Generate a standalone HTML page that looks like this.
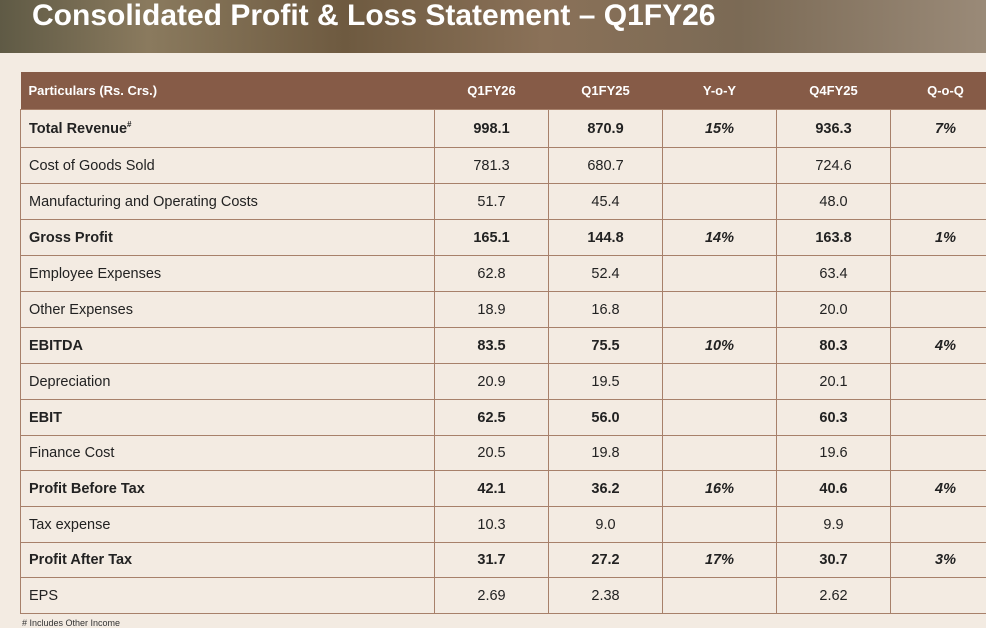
<!DOCTYPE html>
<html><head><style>
body{margin:0;width:986px;height:626px;overflow:hidden;background:#f3ebe2;font-family:"Liberation Sans",sans-serif;position:relative}
.band{position:absolute;left:0;top:0;width:986px;height:53px;background:linear-gradient(90deg,#5f5a45 0%,#8a7a5e 15%,#6e5a40 35%,#8a7158 55%,#7b6a55 75%,#9a8a78 100%)}
.title{position:absolute;left:32px;top:-1px;color:#fff;font-size:30px;font-weight:bold;white-space:nowrap}
table{position:absolute;left:20px;top:72px;border-collapse:collapse;table-layout:fixed;width:980px}
td{border:1px solid #a7806a;font-size:14.5px;color:#222;padding:0;text-align:center}
td:first-child{text-align:left;padding-left:8px}
tr.h td{background:#865b47;color:#fff;font-weight:bold;font-size:13px;height:37px;border:none}
tr.b td{font-weight:bold}
td.i{font-style:italic;font-weight:bold}
.foot{position:absolute;left:22px;top:618px;font-size:9px;color:#333}
</style></head><body>
<div class="band"></div>
<div class="title">Consolidated Profit &amp; Loss Statement – Q1FY26</div>
<table>
<colgroup><col style="width:414px"><col style="width:114px"><col style="width:114px"><col style="width:114px"><col style="width:114px"><col style="width:110px"></colgroup>
<tr class="h"><td>Particulars (Rs. Crs.)</td><td>Q1FY26</td><td>Q1FY25</td><td>Y-o-Y</td><td>Q4FY25</td><td>Q-o-Q</td></tr>
<tr class="b" style="height:38px"><td>Total Revenue<sup style="font-size:8px">#</sup></td><td>998.1</td><td>870.9</td><td class="i">15%</td><td>936.3</td><td class="i">7%</td></tr>
<tr style="height:36px"><td>Cost of Goods Sold</td><td>781.3</td><td>680.7</td><td></td><td>724.6</td><td></td></tr>
<tr style="height:36px"><td>Manufacturing and Operating Costs</td><td>51.7</td><td>45.4</td><td></td><td>48.0</td><td></td></tr>
<tr class="b" style="height:36px"><td>Gross Profit</td><td>165.1</td><td>144.8</td><td class="i">14%</td><td>163.8</td><td class="i">1%</td></tr>
<tr style="height:36px"><td>Employee Expenses</td><td>62.8</td><td>52.4</td><td></td><td>63.4</td><td></td></tr>
<tr style="height:36px"><td>Other Expenses</td><td>18.9</td><td>16.8</td><td></td><td>20.0</td><td></td></tr>
<tr class="b" style="height:36px"><td>EBITDA</td><td>83.5</td><td>75.5</td><td class="i">10%</td><td>80.3</td><td class="i">4%</td></tr>
<tr style="height:36px"><td>Depreciation</td><td>20.9</td><td>19.5</td><td></td><td>20.1</td><td></td></tr>
<tr class="b" style="height:36px"><td>EBIT</td><td>62.5</td><td>56.0</td><td></td><td>60.3</td><td></td></tr>
<tr style="height:35px"><td>Finance Cost</td><td>20.5</td><td>19.8</td><td></td><td>19.6</td><td></td></tr>
<tr class="b" style="height:36px"><td>Profit Before Tax</td><td>42.1</td><td>36.2</td><td class="i">16%</td><td>40.6</td><td class="i">4%</td></tr>
<tr style="height:36px"><td>Tax expense</td><td>10.3</td><td>9.0</td><td></td><td>9.9</td><td></td></tr>
<tr class="b" style="height:35px"><td>Profit After Tax</td><td>31.7</td><td>27.2</td><td class="i">17%</td><td>30.7</td><td class="i">3%</td></tr>
<tr style="height:36px"><td>EPS</td><td>2.69</td><td>2.38</td><td></td><td>2.62</td><td></td></tr>
</table>
<div class="foot"># Includes Other Income</div>
</body></html>
